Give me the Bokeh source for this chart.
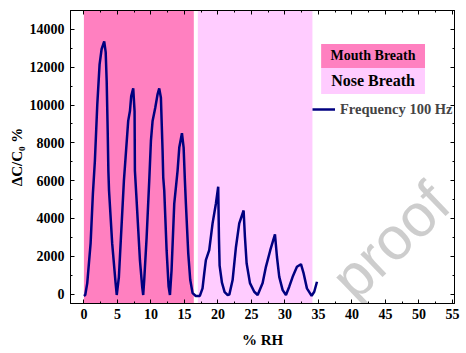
import math
from bokeh.plotting import figure
from bokeh.models import (Range1d, LinearAxis, BoxAnnotation, Label, Legend,
                          LegendItem, FixedTicker, ColumnDataSource)
from bokeh.embed import file_html
from bokeh.resources import INLINE

# ---------------- data ----------------
rh = [0.0, 0.2, 0.5, 1.0, 1.34, 1.64, 2.0, 2.34, 2.64, 3.03, 3.25, 3.4, 3.55, 3.65, 3.75, 4.22, 4.73, 4.9,
      5.22, 5.48, 5.97, 6.22, 6.61, 6.87, 7.06, 7.36, 7.56, 7.61, 7.81, 8.36, 8.70, 8.85,
      9.0, 9.36, 9.75, 10.0, 10.25, 10.64, 11.0, 11.24, 11.49, 11.74, 11.84, 11.99, 12.34, 12.64, 12.84,
      13.08, 13.48, 13.98, 14.23, 14.63, 14.88, 15.07, 15.22, 15.57, 15.87, 16.22, 16.7, 17.3,
      17.7, 17.96, 18.2, 18.7, 19.2, 19.7, 20.04, 20.15, 20.25, 20.6, 21.0, 21.45,
      21.7, 22.19, 22.69, 23.18, 23.83, 24.03, 24.28, 24.78, 25.42, 25.93,
      26.67, 27.16, 27.81, 28.51, 28.81, 29.15, 29.66, 30.15,
      30.64, 31.15, 31.79, 32.39, 32.79, 33.28, 33.98, 34.37, 34.78]
dc = [-100, -50, 580, 2680, 5300, 7050, 10050, 12150, 12950, 13370, 12800, 11260, 8630, 6530, 5470, 2680, 580, -50,
      900, 2680, 6000, 7230, 9160, 9680, 10470, 10880, 9680, 6530, 5300, 1790, 370, -50,
      740, 3000, 6000, 8100, 9160, 9840, 10580, 10880, 10380, 7580, 6160, 5470, 2320, 390, -50,
      1260, 4770, 6530, 7750, 8510, 7750, 6000, 4770, 2150, 740, 50, -100, -100,
      300, 1100, 1790, 2320, 3740, 4790, 5680, 3000, 1500, 600, 100, -50,
      -30, 740, 2490, 3740, 4420, 3020, 1630, 580, 120, -50,
      580, 1440, 2320, 3160, 1960, 910, 210, -50,
      390, 910, 1440, 1580, 1090, 300, -100, 120, 650]

region_names = ["Mouth Breath", "Nose Breath"]
region_start = [0.0, 17.0]
region_end = [16.4, 34.1]
region_colors = ["#FF80C0", "#FFCCFF"]

x_ticks = [0, 5, 10, 15, 20, 25, 30, 35, 40, 45, 50, 55]
y_ticks = [0, 2000, 4000, 6000, 8000, 10000, 12000, 14000]

series_label = "Frequency 100 Hz"
SERIF = "Liberation Serif"

# ---------------- figure ----------------
p = figure(width=466, height=353, output_backend="svg", toolbar_location=None,
           x_range=Range1d(-2, 55.3), y_range=Range1d(-500, 15000),
           min_border_left=70, min_border_right=12, min_border_top=10, min_border_bottom=50)
p.grid.visible = False
p.outline_line_color = "black"
p.background_fill_color = "white"

# shaded regions
for s, e, c in zip(region_start, region_end, region_colors):
    p.add_layout(BoxAnnotation(left=s, right=e, fill_color=c, fill_alpha=1.0,
                               line_alpha=0, level="underlay"))

# watermark of the source page (kept inside the plot frame)
p.add_layout(Label(x=38.4, y=300, text="proof", angle=math.radians(44),
                   text_font="Liberation Sans", text_font_size="60px",
                   text_baseline="alphabetic",
                   text_color="#c4c4c4", text_alpha=0.85, level="underlay"))

src = ColumnDataSource(dict(x=rh, y=dc))
r = p.line("x", "y", source=src, line_color="#000080", line_width=2.5)

# axes styling
def style_axis(ax):
    ax.axis_line_color = "black"
    ax.major_tick_line_color = "black"
    ax.minor_tick_line_color = "black"
    ax.major_tick_in = 4
    ax.major_tick_out = 0
    ax.minor_tick_in = 2
    ax.minor_tick_out = 0
    ax.major_label_text_font = SERIF
    ax.major_label_text_font_style = "bold"
    ax.major_label_text_font_size = "14px"
    ax.major_label_text_color = "black"
    ax.axis_label_text_font = SERIF
    ax.axis_label_text_font_style = "bold"
    ax.axis_label_text_font_size = "15px"
    ax.axis_label_text_color = "black"

xt = FixedTicker(ticks=x_ticks, minor_ticks=[v + 2.5 for v in x_ticks[:-1]])
yt = FixedTicker(ticks=y_ticks, minor_ticks=[v + 1000 for v in y_ticks])

p.xaxis.ticker = xt
p.yaxis.ticker = yt
style_axis(p.xaxis[0])
style_axis(p.yaxis[0])
p.xaxis.axis_label = "% RH"
p.yaxis.axis_label = "ΔC/C₀ %"
p.xaxis.major_label_standoff = 5
p.yaxis.major_label_standoff = 6
p.xaxis.axis_label_standoff = 10
p.yaxis.axis_label_standoff = 2

top_ax = LinearAxis(ticker=xt, major_label_overrides={t: "" for t in x_ticks})
right_ax = LinearAxis(ticker=yt, major_label_overrides={t: "" for t in y_ticks})
style_axis(top_ax)
style_axis(right_ax)
top_ax.major_label_standoff = 0
right_ax.major_label_standoff = 0
p.add_layout(top_ax, "above")
p.add_layout(right_ax, "right")

# "(b)" panel tag
p.add_layout(Label(x=-6.7, y=14580, text="(b)", text_font=SERIF, text_font_style="bold",
                   text_font_size="14px", text_baseline="middle", text_color="black"))

# legend boxes for regions
box_left, box_right = 35.4, 50.9
box_edges = [13226, 11963, 10579]
text_sizes = ["14px", "16px"]
for i, (name, c) in enumerate(zip(region_names, region_colors)):
    top, bot = box_edges[i], box_edges[i + 1]
    p.add_layout(BoxAnnotation(left=box_left, right=box_right, top=top, bottom=bot,
                               fill_color=c, fill_alpha=1.0, line_alpha=0, level="overlay"))
    p.add_layout(Label(x=(box_left + box_right) / 2, y=(top + bot) / 2, text=name,
                       text_font=SERIF, text_font_style="bold", text_font_size=text_sizes[i],
                       text_align="center", text_baseline="middle", text_color="black",
                       level="overlay"))

legend = Legend(items=[LegendItem(label=series_label, renderers=[r])],
                location=(242, 184), background_fill_alpha=0, border_line_alpha=0,
                padding=0, margin=0, glyph_width=23, label_standoff=5,
                label_text_font=SERIF, label_text_font_style="bold",
                label_text_font_size="14.5px")
p.add_layout(legend)

open("out.html", "w").write(file_html(p, INLINE))
